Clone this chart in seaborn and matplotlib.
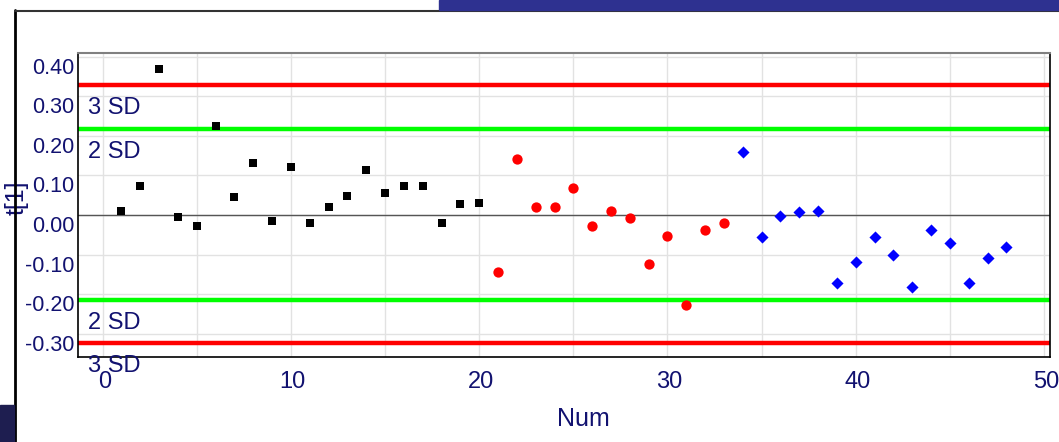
import numpy as np
import pandas as pd
import seaborn as sns
import matplotlib.pyplot as plt
import matplotlib.transforms as mtransforms
from matplotlib.patches import Rectangle
from matplotlib.lines import Line2D

# Data
num_black = list(range(1, 21))
t1_black = [0.010, 0.072, 0.370, -0.004, -0.029, 0.225, 0.046, 0.131, -0.015, 0.122,
            -0.019, 0.021, 0.048, 0.114, 0.056, 0.072, 0.072, -0.021, 0.029, 0.031]

num_red = list(range(21, 34))
t1_red = [-0.143, 0.141, 0.019, 0.019, 0.069, -0.028, 0.011, -0.008, -0.125, -0.053,
          -0.227, -0.039, -0.021]

num_blue = list(range(34, 49))
t1_blue = [0.158, -0.056, -0.003, 0.008, 0.011, -0.172, -0.119, -0.056, -0.100, -0.183,
           -0.039, -0.071, -0.172, -0.108, -0.082]

# control limits
sd3_upper, sd2_upper = 0.329, 0.217
sd2_lower, sd3_lower = -0.216, -0.324

x_ticks = [0, 10, 20, 30, 40, 50]
y_ticks = [-0.3, -0.2, -0.1, 0.0, 0.1, 0.2, 0.3, 0.4]
y_labels = ["-0.30", "-0.20", "-0.10", "0.00", "0.10", "0.20", "0.30", "0.40"]

NAVY = "#121270"

sns.set_style("white")
plt.rcParams["font.family"] = ["Liberation Sans", "DejaVu Sans"]

fig = plt.figure(figsize=(10.59, 4.42), dpi=100)
ax = fig.add_axes([0.0732, 0.193, 0.9186, 0.686])

df_black = pd.DataFrame({"Num": num_black, "t1": t1_black})
df_red = pd.DataFrame({"Num": num_red, "t1": t1_red})
df_blue = pd.DataFrame({"Num": num_blue, "t1": t1_blue})

# grid
for gx in range(0, 51, 5):
    ax.axvline(gx, color="#e2e2e2", lw=1.0, zorder=0)
for gy in y_ticks:
    ax.axhline(gy, color="#e2e2e2", lw=1.0, zorder=0)

ax.axhline(0.0, color="#555555", lw=1.0, zorder=1)
ax.axhline(sd3_upper, color="#ff0000", lw=3.2, zorder=2)
ax.axhline(sd2_upper, color="#00ff00", lw=3.2, zorder=2)
ax.axhline(sd2_lower, color="#00ff00", lw=3.2, zorder=2)
ax.axhline(sd3_lower, color="#ff0000", lw=3.2, zorder=2)

sns.scatterplot(data=df_black, x="Num", y="t1", marker="s", color="black",
                s=30, linewidth=0, ax=ax, zorder=3)
sns.scatterplot(data=df_red, x="Num", y="t1", marker="o", color="#ff0000",
                s=55, linewidth=0, ax=ax, zorder=3)
sns.scatterplot(data=df_blue, x="Num", y="t1", marker="D", color="#0000ff",
                s=38, linewidth=0, ax=ax, zorder=3)

# SD labels
sd_font = dict(fontsize=17, color=NAVY, ha="left", va="center", clip_on=False, zorder=4)
ax.text(-0.78, 0.270, "3 SD", **sd_font)
ax.text(-0.78, 0.159, "2 SD", **sd_font)
ax.text(-0.78, -0.273, "2 SD", **sd_font)
ax.text(-0.78, -0.382, "3 SD", **sd_font)

ax.set_xlim(-1.33, 50.33)
ax.set_ylim(-0.358, 0.408)

ax.set_xticks(x_ticks)
ax.set_xticks(range(5, 50, 10), minor=True)
ax.set_xticklabels([str(v) for v in x_ticks])
ax.set_yticks(y_ticks)
ax.set_yticks(np.arange(-0.35, 0.40, 0.1), minor=True)
ax.set_yticklabels(y_labels)

ax.tick_params(axis="both", which="both", direction="in", length=4, width=1,
               color="black", labelcolor=NAVY)
ax.tick_params(axis="x", which="major", labelsize=17, pad=10)
ax.tick_params(axis="y", which="major", labelsize=15.5, pad=2)
for lab in ax.get_yticklabels():
    lab.set_transform(lab.get_transform() +
                      mtransforms.ScaledTranslation(0, -0.09, fig.dpi_scale_trans))
for lab in ax.get_xticklabels():
    lab.set_transform(lab.get_transform() +
                      mtransforms.ScaledTranslation(0.02, 0, fig.dpi_scale_trans))

ax.set_xlabel("Num", fontsize=18, color=NAVY)
ax.set_ylabel("t[1]", fontsize=18, color=NAVY)
ax.xaxis.set_label_coords(0.52, -0.165)
ax.yaxis.set_label_coords(-0.05, 0.523)

for side in ["left", "bottom", "right"]:
    ax.spines[side].set_color("black")
    ax.spines[side].set_linewidth(1.2)
ax.spines["top"].set_color("#808080")
ax.spines["top"].set_linewidth(1.5)

# surrounding frame decorations (figure pixels -> fraction)
W, H = 1059.0, 442.0
fig.patches.append(Rectangle((439 / W, 1 - 10 / H), 1 - 439 / W, 10 / H,
                             transform=fig.transFigure, color="#2e3190", zorder=5))
fig.patches.append(Rectangle((0, 0), 14 / W, (442 - 405) / H,
                             transform=fig.transFigure, color="#1e1e50", zorder=5))
fig.lines.append(Line2D([15 / W, 15 / W], [0, 1 - 10 / H], transform=fig.transFigure,
                        color="black", lw=2))
fig.lines.append(Line2D([15 / W, 1], [1 - 10.5 / H, 1 - 10.5 / H], transform=fig.transFigure,
                        color="#333333", lw=1.5))

fig.savefig("out.png", dpi=100)
